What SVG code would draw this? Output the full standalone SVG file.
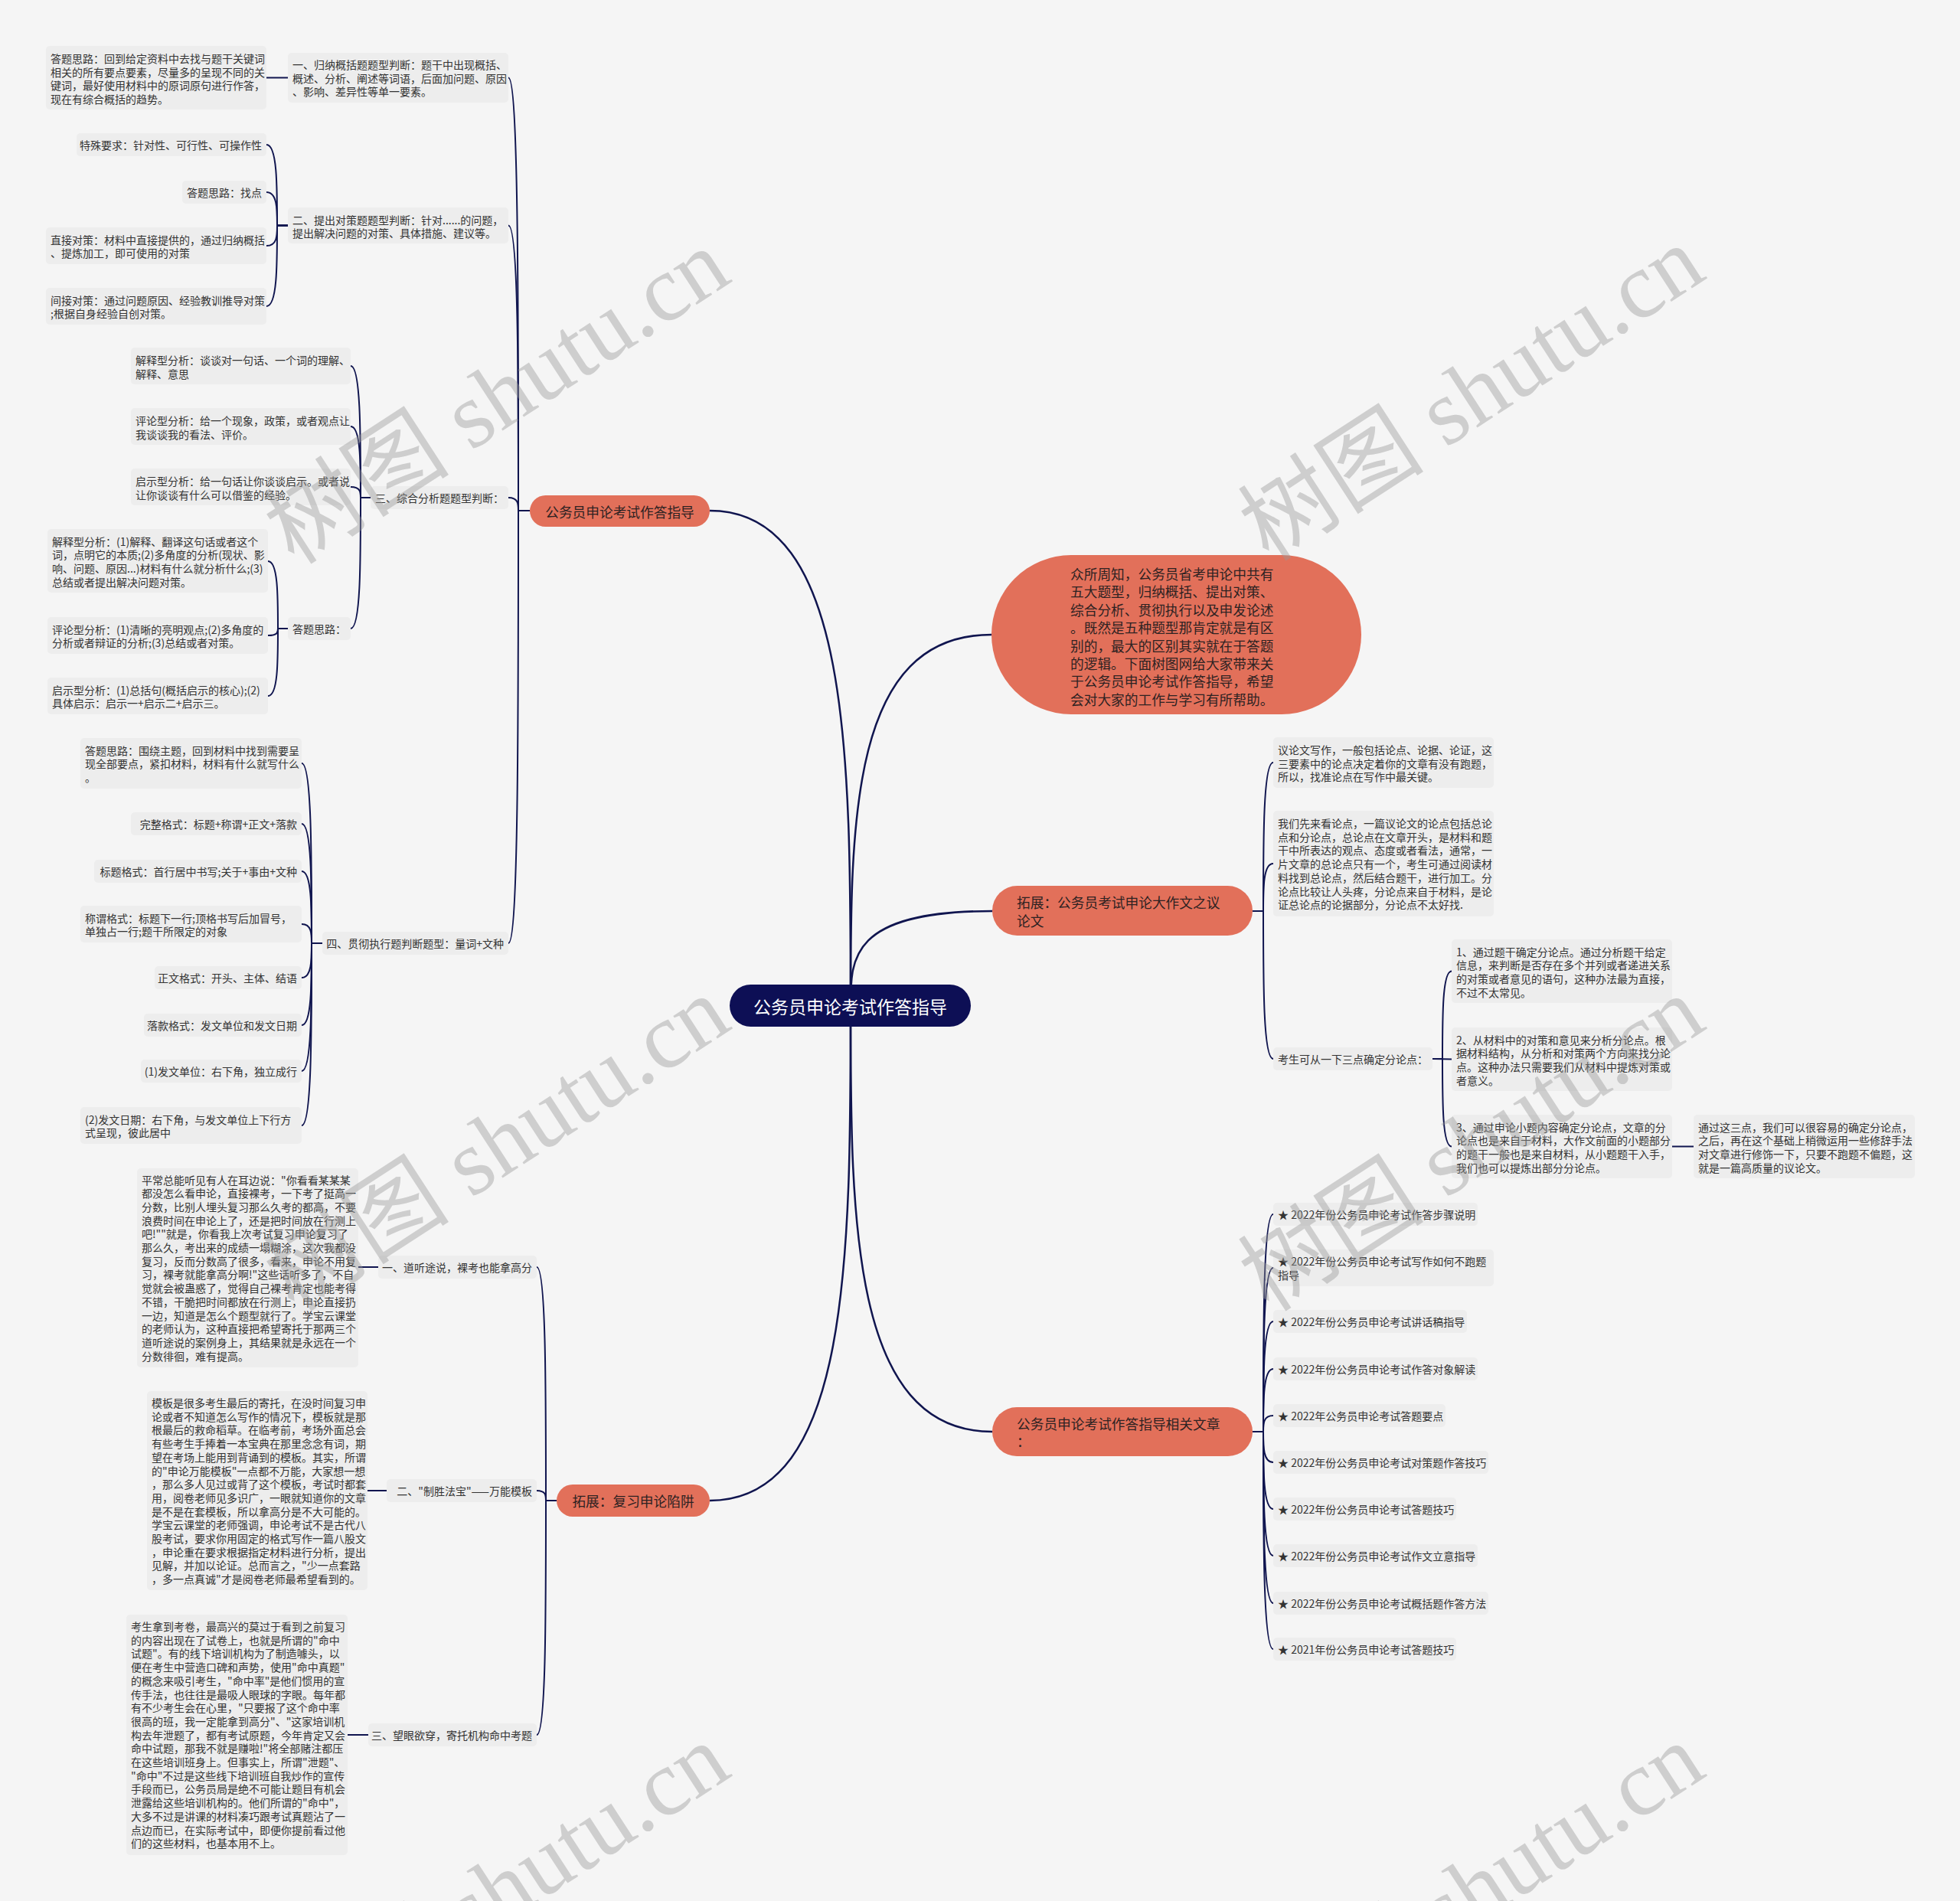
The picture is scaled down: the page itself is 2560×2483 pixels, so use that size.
<svg xmlns="http://www.w3.org/2000/svg" width="2560" height="2483" viewBox="0 0 2560 2483">
<style>
.bg{fill:#f5f5f5}
.b{fill:#ededed}
.o{fill:#e2705a}
.t{font-family:"Noto Sans CJK SC","Noto Sans",sans-serif;font-size:14px;fill:#333;dominant-baseline:central}
.ot{font-family:"Noto Sans CJK SC","Noto Sans",sans-serif;font-size:17.7px;fill:#2d2222;dominant-baseline:central}
.rt{font-family:"Noto Sans CJK SC","Noto Sans",sans-serif;font-size:23px;fill:#fff;dominant-baseline:central;text-anchor:middle}
.e{fill:none;stroke:#10154f;stroke-width:2}
.er{fill:none;stroke:#10154f;stroke-width:2.5}
.wm{font-family:"Liberation Serif","Noto Sans CJK SC",serif;font-size:122px;fill:#999;opacity:0.42;text-anchor:middle;dominant-baseline:central}
</style>
<rect class="bg" x="0" y="0" width="2560" height="2483"/>
<g id="connectors">
<path class="er" d="M1111 1313 C1111 990 1111 667 927 667"/>
<path class="er" d="M1111 1313 C1111 1071 1111 829 1295 829"/>
<path class="er" d="M1111 1313 C1111 1251.5 1111 1190 1296 1190"/>
<path class="er" d="M1111 1313 C1111 1591.5 1111 1870 1296 1870"/>
<path class="er" d="M1111 1313 C1111 1636.5 1111 1960 927 1960"/>
<path class="e" d="M692 667 L677 667 C677 384.25 677 101.5 664 101.5"/>
<path class="e" d="M692 667 L677 667 C677 480.75 677 294.5 664 294.5"/>
<path class="e" d="M692 667 L677 667 C677 658.5 677 650 664 650"/>
<path class="e" d="M692 667 L677 667 C677 949.5 677 1232 664 1232"/>
<path class="e" d="M376 101.5 L348 101.5"/>
<path class="e" d="M376 294.5 L362 294.5 C362 241.75 362 189 348 189"/>
<path class="e" d="M376 294.5 L362 294.5 C362 272.75 362 251 348 251"/>
<path class="e" d="M376 294.5 L362 294.5 C362 307.75 362 321 348 321"/>
<path class="e" d="M376 294.5 L362 294.5 C362 347.25 362 400 348 400"/>
<path class="e" d="M484 650 L471 650 C471 564 471 478 458 478"/>
<path class="e" d="M484 650 L471 650 C471 603.5 471 557 458 557"/>
<path class="e" d="M484 650 L471 650 C471 643 471 636 458 636"/>
<path class="e" d="M484 650 L471 650 C471 735.5 471 821 458 821"/>
<path class="e" d="M376 821 L363 821 C363 777 363 733 350 733"/>
<path class="e" d="M376 821 L363 821 C363 825.5 363 830 350 830"/>
<path class="e" d="M376 821 L363 821 C363 865 363 909 350 909"/>
<path class="e" d="M421 1232 L407 1232 C407 1114.5 407 997 394 997"/>
<path class="e" d="M421 1232 L407 1232 C407 1154 407 1076 394 1076"/>
<path class="e" d="M421 1232 L407 1232 C407 1185 407 1138 394 1138"/>
<path class="e" d="M421 1232 L407 1232 C407 1219.5 407 1207 394 1207"/>
<path class="e" d="M421 1232 L407 1232 C407 1254.5 407 1277 394 1277"/>
<path class="e" d="M421 1232 L407 1232 C407 1285.5 407 1339 394 1339"/>
<path class="e" d="M421 1232 L407 1232 C407 1315.5 407 1399 394 1399"/>
<path class="e" d="M421 1232 L407 1232 C407 1351 407 1470 394 1470"/>
<path class="e" d="M727 1960 L713 1960 C713 1807.5 713 1655 701 1655"/>
<path class="e" d="M727 1960 L713 1960 C713 1953.5 713 1947 701 1947"/>
<path class="e" d="M727 1960 L713 1960 C713 2113 713 2266 701 2266"/>
<path class="e" d="M494 1655 L468 1655"/>
<path class="e" d="M505 1947 L480 1947"/>
<path class="e" d="M481 2266 L454 2266"/>
<path class="e" d="M1636 1190 L1650 1190 C1650 1093 1650 996 1663 996"/>
<path class="e" d="M1636 1190 L1650 1190 C1650 1159 1650 1128 1663 1128"/>
<path class="e" d="M1636 1190 L1650 1190 C1650 1286.5 1650 1383 1663 1383"/>
<path class="e" d="M1871 1383 L1884 1383 C1884 1325.75 1884 1268.5 1896 1268.5"/>
<path class="e" d="M1871 1383 L1896 1383.5"/>
<path class="e" d="M1871 1383 L1884 1383 C1884 1440.25 1884 1497.5 1896 1497.5"/>
<path class="e" d="M2184 1497.5 L2212 1497.5"/>
<path class="e" d="M1636 1870 L1650 1870 C1650 1728 1650 1586 1663 1586"/>
<path class="e" d="M1636 1870 L1650 1870 C1650 1763 1650 1656 1663 1656"/>
<path class="e" d="M1636 1870 L1650 1870 C1650 1798 1650 1726 1663 1726"/>
<path class="e" d="M1636 1870 L1650 1870 C1650 1829 1650 1788 1663 1788"/>
<path class="e" d="M1636 1870 L1650 1870 C1650 1859.5 1650 1849 1663 1849"/>
<path class="e" d="M1636 1870 L1650 1870 C1650 1890 1650 1910 1663 1910"/>
<path class="e" d="M1636 1870 L1650 1870 C1650 1920.5 1650 1971 1663 1971"/>
<path class="e" d="M1636 1870 L1650 1870 C1650 1951 1650 2032 1663 2032"/>
<path class="e" d="M1636 1870 L1650 1870 C1650 1982 1650 2094 1663 2094"/>
<path class="e" d="M1636 1870 L1650 1870 C1650 2012 1650 2154 1663 2154"/>
</g>
<g id="n-root"><rect x="953" y="1286" width="315" height="55" rx="27.5" fill="#0d0f55"/><text class="rt" x="1110.5" y="1313.5">公务员申论考试作答指导</text></g>
<g id="n-m1"><rect class="o" x="692" y="647" width="235" height="41" rx="20.5"/><text class="ot" x="809.5" y="667.5" text-anchor="middle">公务员申论考试作答指导</text></g>
<g id="n-b1"><rect class="b" x="376" y="69" width="288" height="65" rx="5"/><text class="t"><tspan x="382" y="84">一、归纳概括题题型判断：题干中出现概括、</tspan><tspan x="382" y="101.7">概述、分析、阐述等词语，后面加问题、原因</tspan><tspan x="382" y="119.4">、影响、差异性等单一要素。</tspan></text></g>
<g id="n-a1"><rect class="b" x="60" y="60" width="288" height="83" rx="5"/><text class="t"><tspan x="66" y="76">答题思路：回到给定资料中去找与题干关键词</tspan><tspan x="66" y="93.7">相关的所有要点要素，尽量多的呈现不同的关</tspan><tspan x="66" y="111.4">键词，最好使用材料中的原词原句进行作答，</tspan><tspan x="66" y="129.1">现在有综合概括的趋势。</tspan></text></g>
<g id="n-b2"><rect class="b" x="376" y="271" width="288" height="47" rx="5"/><text class="t"><tspan x="382" y="286.5">二、提出对策题题型判断：针对......的问题，</tspan><tspan x="382" y="304.2">提出解决问题的对策、具体措施、建议等。</tspan></text></g>
<g id="n-b2a"><rect class="b" x="100" y="174" width="248" height="30" rx="5"/><text class="t" x="342" y="189" text-anchor="end">特殊要求：针对性、可行性、可操作性</text></g>
<g id="n-b2b"><rect class="b" x="238" y="236" width="110" height="30" rx="5"/><text class="t" x="342" y="251" text-anchor="end">答题思路：找点</text></g>
<g id="n-b2c"><rect class="b" x="60" y="297" width="288" height="48" rx="5"/><text class="t"><tspan x="66" y="312.5">直接对策：材料中直接提供的，通过归纳概括</tspan><tspan x="66" y="330.2">、提炼加工，即可使用的对策</tspan></text></g>
<g id="n-b2d"><rect class="b" x="60" y="376" width="288" height="48" rx="5"/><text class="t"><tspan x="66" y="391.5">间接对策：通过问题原因、经验教训推导对策</tspan><tspan x="66" y="409.2">;根据自身经验自创对策。</tspan></text></g>
<g id="n-b3"><rect class="b" x="484" y="635" width="180" height="30" rx="5"/><text class="t" x="658" y="650" text-anchor="end">三、综合分析题题型判断：</text></g>
<g id="n-b3a"><rect class="b" x="171" y="454" width="287" height="48" rx="5"/><text class="t"><tspan x="177" y="470">解释型分析：谈谈对一句话、一个词的理解、</tspan><tspan x="177" y="487.7">解释、意思</tspan></text></g>
<g id="n-b3b"><rect class="b" x="171" y="533" width="287" height="48" rx="5"/><text class="t"><tspan x="177" y="549">评论型分析：给一个现象，政策，或者观点让</tspan><tspan x="177" y="566.7">我谈谈我的看法、评价。</tspan></text></g>
<g id="n-b3c"><rect class="b" x="171" y="612" width="287" height="48" rx="5"/><text class="t"><tspan x="177" y="628">启示型分析：给一句话让你谈谈启示。或者说</tspan><tspan x="177" y="645.7">让你谈谈有什么可以借鉴的经验。</tspan></text></g>
<g id="n-b3d"><rect class="b" x="376" y="806" width="82" height="30" rx="5"/><text class="t" x="452" y="821" text-anchor="end">答题思路：</text></g>
<g id="n-b3d1"><rect class="b" x="62" y="691" width="288" height="83" rx="5"/><text class="t"><tspan x="68" y="706.5">解释型分析：(1)解释、翻译这句话或者这个</tspan><tspan x="68" y="724.2">词，点明它的本质;(2)多角度的分析(现状、影</tspan><tspan x="68" y="741.9">响、问题、原因...)材料有什么就分析什么;(3)</tspan><tspan x="68" y="759.6">总结或者提出解决问题对策。</tspan></text></g>
<g id="n-b3d2"><rect class="b" x="62" y="806" width="288" height="48" rx="5"/><text class="t"><tspan x="68" y="821.5">评论型分析：(1)清晰的亮明观点;(2)多角度的</tspan><tspan x="68" y="839.2">分析或者辩证的分析;(3)总结或者对策。</tspan></text></g>
<g id="n-b3d3"><rect class="b" x="62" y="885" width="288" height="48" rx="5"/><text class="t"><tspan x="68" y="900.5">启示型分析：(1)总括句(概括启示的核心);(2)</tspan><tspan x="68" y="918.2">具体启示：启示一+启示二+启示三。</tspan></text></g>
<g id="n-b4"><rect class="b" x="421" y="1217" width="243" height="30" rx="5"/><text class="t" x="658" y="1232" text-anchor="end">四、贯彻执行题判断题型：量词+文种</text></g>
<g id="n-b4a"><rect class="b" x="105" y="964" width="289" height="66" rx="5"/><text class="t"><tspan x="111" y="979.5">答题思路：围绕主题，回到材料中找到需要呈</tspan><tspan x="111" y="997.2">现全部要点，紧扣材料，材料有什么就写什么</tspan><tspan x="111" y="1014.9">。</tspan></text></g>
<g id="n-b4b"><rect class="b" x="171" y="1061" width="223" height="30" rx="5"/><text class="t" x="388" y="1076" text-anchor="end">完整格式：标题+称谓+正文+落款</text></g>
<g id="n-b4c"><rect class="b" x="123" y="1123" width="271" height="30" rx="5"/><text class="t" x="388" y="1138" text-anchor="end">标题格式：首行居中书写;关于+事由+文种</text></g>
<g id="n-b4d"><rect class="b" x="105" y="1183" width="289" height="48" rx="5"/><text class="t"><tspan x="111" y="1198.5">称谓格式：标题下一行;顶格书写后加冒号，</tspan><tspan x="111" y="1216.2">单独占一行;题干所限定的对象</tspan></text></g>
<g id="n-b4e"><rect class="b" x="202" y="1262" width="192" height="30" rx="5"/><text class="t" x="388" y="1277" text-anchor="end">正文格式：开头、主体、结语</text></g>
<g id="n-b4f"><rect class="b" x="188" y="1324" width="206" height="30" rx="5"/><text class="t" x="388" y="1339" text-anchor="end">落款格式：发文单位和发文日期</text></g>
<g id="n-b4g"><rect class="b" x="184" y="1384" width="210" height="30" rx="5"/><text class="t" x="388" y="1399" text-anchor="end">(1)发文单位：右下角，独立成行</text></g>
<g id="n-b4h"><rect class="b" x="105" y="1446" width="289" height="48" rx="5"/><text class="t"><tspan x="111" y="1461.5">(2)发文日期：右下角，与发文单位上下行方</tspan><tspan x="111" y="1479.2">式呈现，彼此居中</tspan></text></g>
<g id="n-m2"><rect class="o" x="727" y="1939" width="200" height="42" rx="21"/><text class="ot" x="827" y="1960" text-anchor="middle">拓展：复习申论陷阱</text></g>
<g id="n-c1"><rect class="b" x="494" y="1640" width="207" height="30" rx="5"/><text class="t" x="695" y="1655" text-anchor="end">一、道听途说，裸考也能拿高分</text></g>
<g id="n-p1"><rect class="b" x="179" y="1526" width="289" height="260" rx="5"/><text class="t"><tspan x="185" y="1540.5">平常总能听见有人在耳边说："你看看某某某</tspan><tspan x="185" y="1558.2">都没怎么看申论，直接裸考，一下考了挺高一</tspan><tspan x="185" y="1575.9">分数，比别人埋头复习那么久考的都高，不要</tspan><tspan x="185" y="1593.6">浪费时间在申论上了，还是把时间放在行测上</tspan><tspan x="185" y="1611.3">吧!""就是，你看我上次考试复习申论复习了</tspan><tspan x="185" y="1629">那么久，考出来的成绩一塌糊涂，这次我都没</tspan><tspan x="185" y="1646.7">复习，反而分数高了很多，看来，申论不用复</tspan><tspan x="185" y="1664.4">习，裸考就能拿高分啊!"这些话听多了，不自</tspan><tspan x="185" y="1682.1">觉就会被蛊惑了，觉得自己裸考肯定也能考得</tspan><tspan x="185" y="1699.8">不错，干脆把时间都放在行测上，申论直接扔</tspan><tspan x="185" y="1717.5">一边，知道是怎么个题型就行了。学宝云课堂</tspan><tspan x="185" y="1735.2">的老师认为，这种直接把希望寄托于那两三个</tspan><tspan x="185" y="1752.9">道听途说的案例身上，其结果就是永远在一个</tspan><tspan x="185" y="1770.6">分数徘徊，难有提高。</tspan></text></g>
<g id="n-c2"><rect class="b" x="505" y="1932" width="196" height="30" rx="5"/><text class="t" x="695" y="1947" text-anchor="end">二、"制胜法宝"——万能模板</text></g>
<g id="n-p2"><rect class="b" x="192" y="1817" width="288" height="260" rx="5"/><text class="t"><tspan x="198" y="1832">模板是很多考生最后的寄托，在没时间复习申</tspan><tspan x="198" y="1849.7">论或者不知道怎么写作的情况下，模板就是那</tspan><tspan x="198" y="1867.4">根最后的救命稻草。在临考前，考场外面总会</tspan><tspan x="198" y="1885.1">有些考生手捧着一本宝典在那里念念有词，期</tspan><tspan x="198" y="1902.8">望在考场上能用到背诵到的模板。其实，所谓</tspan><tspan x="198" y="1920.5">的"申论万能模板"一点都不万能，大家想一想</tspan><tspan x="198" y="1938.2">，那么多人见过或背了这个模板，考试时都套</tspan><tspan x="198" y="1955.9">用，阅卷老师见多识广，一眼就知道你的文章</tspan><tspan x="198" y="1973.6">是不是在套模板，所以拿高分是不大可能的。</tspan><tspan x="198" y="1991.3">学宝云课堂的老师强调，申论考试不是古代八</tspan><tspan x="198" y="2009">股考试，要求你用固定的格式写作一篇八股文</tspan><tspan x="198" y="2026.7">，申论重在要求根据指定材料进行分析，提出</tspan><tspan x="198" y="2044.4">见解，并加以论证。总而言之，"少一点套路</tspan><tspan x="198" y="2062.1">，多一点真诚"才是阅卷老师最希望看到的。</tspan></text></g>
<g id="n-c3"><rect class="b" x="481" y="2251" width="220" height="30" rx="5"/><text class="t" x="695" y="2266" text-anchor="end">三、望眼欲穿，寄托机构命中考题</text></g>
<g id="n-p3"><rect class="b" x="165" y="2109" width="289" height="314" rx="5"/><text class="t"><tspan x="171" y="2124">考生拿到考卷，最高兴的莫过于看到之前复习</tspan><tspan x="171" y="2141.7">的内容出现在了试卷上，也就是所谓的"命中</tspan><tspan x="171" y="2159.4">试题"。有的线下培训机构为了制造噱头，以</tspan><tspan x="171" y="2177.1">便在考生中营造口碑和声势，使用"命中真题"</tspan><tspan x="171" y="2194.8">的概念来吸引考生，"命中率"是他们惯用的宣</tspan><tspan x="171" y="2212.5">传手法，也往往是最吸人眼球的字眼。每年都</tspan><tspan x="171" y="2230.2">有不少考生会在心里，"只要报了这个命中率</tspan><tspan x="171" y="2247.9">很高的班，我一定能拿到高分"、"这家培训机</tspan><tspan x="171" y="2265.6">构去年泄题了，都有考试原题，今年肯定又会</tspan><tspan x="171" y="2283.3">命中试题，那我不就是赚啦!"将全部赌注都压</tspan><tspan x="171" y="2301">在这些培训班身上。但事实上，所谓"泄题"、</tspan><tspan x="171" y="2318.7">"命中"不过是这些线下培训班自我炒作的宣传</tspan><tspan x="171" y="2336.4">手段而已，公务员局是绝不可能让题目有机会</tspan><tspan x="171" y="2354.1">泄露给这些培训机构的。他们所谓的"命中"，</tspan><tspan x="171" y="2371.8">大多不过是讲课的材料凑巧跟考试真题沾了一</tspan><tspan x="171" y="2389.5">点边而已，在实际考试中，即便你提前看过他</tspan><tspan x="171" y="2407.2">们的这些材料，也基本用不上。</tspan></text></g>
<g id="n-r0"><rect class="o" x="1295" y="725" width="483" height="208" rx="104"/><text class="ot"><tspan x="1398" y="749">众所周知，公务员省考申论中共有</tspan><tspan x="1398" y="772.4">五大题型，归纳概括、提出对策、</tspan><tspan x="1398" y="795.8">综合分析、贯彻执行以及申发论述</tspan><tspan x="1398" y="819.2">。既然是五种题型那肯定就是有区</tspan><tspan x="1398" y="842.6">别的，最大的区别其实就在于答题</tspan><tspan x="1398" y="866">的逻辑。下面树图网给大家带来关</tspan><tspan x="1398" y="889.4">于公务员申论考试作答指导，希望</tspan><tspan x="1398" y="912.8">会对大家的工作与学习有所帮助。</tspan></text></g>
<g id="n-r1"><rect class="o" x="1296" y="1157" width="340" height="65" rx="32.5"/><text class="ot"><tspan x="1328" y="1178">拓展：公务员考试申论大作文之议</tspan><tspan x="1328" y="1201.5">论文</tspan></text></g>
<g id="n-ra"><rect class="b" x="1663" y="963" width="288" height="66" rx="5"/><text class="t"><tspan x="1669" y="979">议论文写作，一般包括论点、论据、论证，这</tspan><tspan x="1669" y="996.7">三要素中的论点决定着你的文章有没有跑题，</tspan><tspan x="1669" y="1014.4">所以，找准论点在写作中最关键。</tspan></text></g>
<g id="n-rb"><rect class="b" x="1663" y="1059" width="288" height="138" rx="5"/><text class="t"><tspan x="1669" y="1075">我们先来看论点，一篇议论文的论点包括总论</tspan><tspan x="1669" y="1092.7">点和分论点，总论点在文章开头，是材料和题</tspan><tspan x="1669" y="1110.4">干中所表达的观点、态度或者看法，通常，一</tspan><tspan x="1669" y="1128.1">片文章的总论点只有一个，考生可通过阅读材</tspan><tspan x="1669" y="1145.8">料找到总论点，然后结合题干，进行加工。分</tspan><tspan x="1669" y="1163.5">论点比较让人头疼，分论点来自于材料，是论</tspan><tspan x="1669" y="1181.2">证总论点的论据部分，分论点不太好找.</tspan></text></g>
<g id="n-rc"><rect class="b" x="1663" y="1368" width="208" height="30" rx="5"/><text class="t" x="1669" y="1383">考生可从一下三点确定分论点：</text></g>
<g id="n-rc1"><rect class="b" x="1896" y="1227" width="288" height="83" rx="5"/><text class="t"><tspan x="1902" y="1242.5">1、通过题干确定分论点。通过分析题干给定</tspan><tspan x="1902" y="1260.2">信息，来判断是否存在多个并列或者递进关系</tspan><tspan x="1902" y="1277.9">的对策或者意见的语句，这种办法最为直接，</tspan><tspan x="1902" y="1295.6">不过不太常见。</tspan></text></g>
<g id="n-rc2"><rect class="b" x="1896" y="1342" width="288" height="83" rx="5"/><text class="t"><tspan x="1902" y="1357.5">2、从材料中的对策和意见来分析分论点。根</tspan><tspan x="1902" y="1375.2">据材料结构，从分析和对策两个方向来找分论</tspan><tspan x="1902" y="1392.9">点。这种办法只需要我们从材料中提炼对策或</tspan><tspan x="1902" y="1410.6">者意义。</tspan></text></g>
<g id="n-rc3"><rect class="b" x="1896" y="1456" width="288" height="83" rx="5"/><text class="t"><tspan x="1902" y="1471.5">3、通过申论小题内容确定分论点，文章的分</tspan><tspan x="1902" y="1489.2">论点也是来自于材料，大作文前面的小题部分</tspan><tspan x="1902" y="1506.9">的题干一般也是来自材料，从小题题干入手，</tspan><tspan x="1902" y="1524.6">我们也可以提炼出部分分论点。</tspan></text></g>
<g id="n-rc4"><rect class="b" x="2212" y="1456" width="289" height="83" rx="5"/><text class="t"><tspan x="2218" y="1471.5">通过这三点，我们可以很容易的确定分论点，</tspan><tspan x="2218" y="1489.2">之后，再在这个基础上稍微运用一些修辞手法</tspan><tspan x="2218" y="1506.9">对文章进行修饰一下，只要不跑题不偏题，这</tspan><tspan x="2218" y="1524.6">就是一篇高质量的议论文。</tspan></text></g>
<g id="n-r2"><rect class="o" x="1296" y="1838" width="340" height="64" rx="32"/><text class="ot"><tspan x="1328" y="1859">公务员申论考试作答指导相关文章</tspan><tspan x="1328" y="1882">：</tspan></text></g>
<g id="n-l1"><rect class="b" x="1663" y="1571" width="267" height="30" rx="5"/><text class="t" x="1669" y="1586">★ 2022年份公务员申论考试作答步骤说明</text></g>
<g id="n-l2"><rect class="b" x="1663" y="1632" width="288" height="48" rx="5"/><text class="t"><tspan x="1669" y="1647">★ 2022年份公务员申论考试写作如何不跑题</tspan><tspan x="1669" y="1665">指导</tspan></text></g>
<g id="n-l3"><rect class="b" x="1663" y="1711" width="253" height="30" rx="5"/><text class="t" x="1669" y="1726">★ 2022年份公务员申论考试讲话稿指导</text></g>
<g id="n-l4"><rect class="b" x="1663" y="1773" width="267" height="30" rx="5"/><text class="t" x="1669" y="1788">★ 2022年份公务员申论考试作答对象解读</text></g>
<g id="n-l5"><rect class="b" x="1663" y="1834" width="225" height="30" rx="5"/><text class="t" x="1669" y="1849">★ 2022年公务员申论考试答题要点</text></g>
<g id="n-l6"><rect class="b" x="1663" y="1895" width="281" height="30" rx="5"/><text class="t" x="1669" y="1910">★ 2022年份公务员申论考试对策题作答技巧</text></g>
<g id="n-l7"><rect class="b" x="1663" y="1956" width="239" height="30" rx="5"/><text class="t" x="1669" y="1971">★ 2022年份公务员申论考试答题技巧</text></g>
<g id="n-l8"><rect class="b" x="1663" y="2017" width="267" height="30" rx="5"/><text class="t" x="1669" y="2032">★ 2022年份公务员申论考试作文立意指导</text></g>
<g id="n-l9"><rect class="b" x="1663" y="2079" width="281" height="30" rx="5"/><text class="t" x="1669" y="2094">★ 2022年份公务员申论考试概括题作答方法</text></g>
<g id="n-l10"><rect class="b" x="1663" y="2139" width="239" height="30" rx="5"/><text class="t" x="1669" y="2154">★ 2021年份公务员申论考试答题技巧</text></g>
<g id="watermarks">
<text class="wm" transform="translate(649 518) rotate(-33)">树图 shutu.cn</text>
<text class="wm" transform="translate(1922 514) rotate(-33)">树图 shutu.cn</text>
<text class="wm" transform="translate(649 1494) rotate(-33)">树图 shutu.cn</text>
<text class="wm" transform="translate(1922 1494) rotate(-33)">树图 shutu.cn</text>
<text class="wm" transform="translate(649 2470) rotate(-33)">树图 shutu.cn</text>
<text class="wm" transform="translate(1922 2470) rotate(-33)">树图 shutu.cn</text>
</g>
</svg>
